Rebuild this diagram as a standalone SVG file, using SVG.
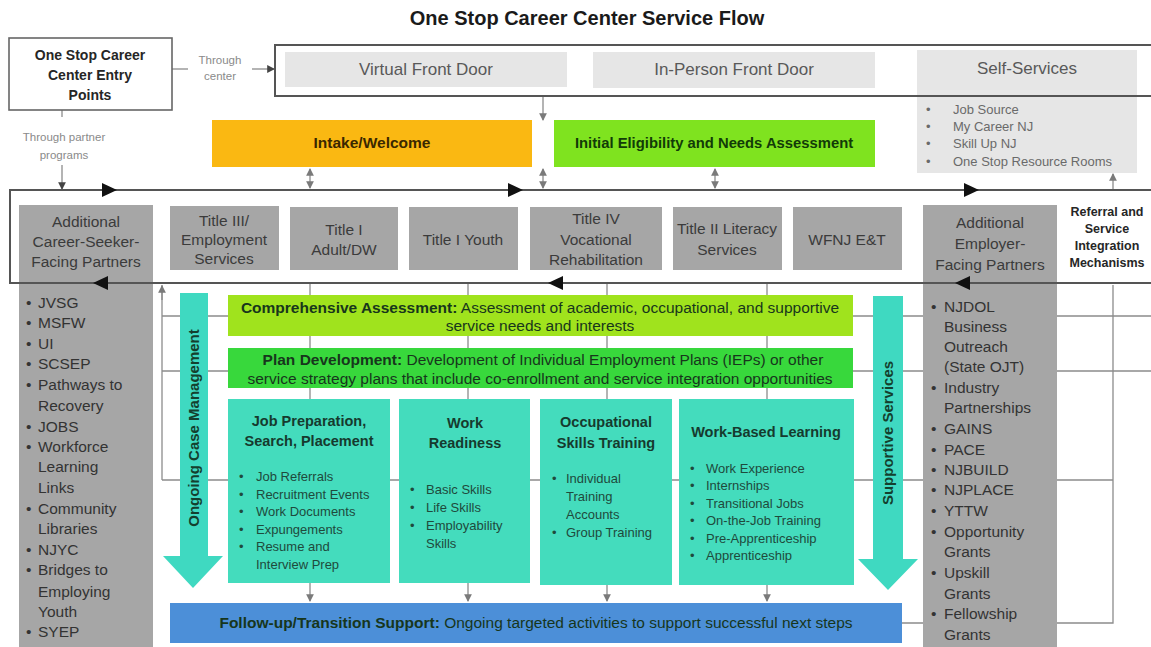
<svg xmlns="http://www.w3.org/2000/svg" width="1151" height="647" viewBox="0 0 1151 647">
<defs>
<marker id="tip" viewBox="0 0 8 8" refX="7" refY="4" markerWidth="6" markerHeight="6" orient="auto-start-reverse">
<path d="M0,0 L8,4 L0,8 z" fill="#7a7a7a"/>
</marker>
<marker id="tipDark" viewBox="0 0 8 8" refX="7" refY="4" markerWidth="6" markerHeight="6" orient="auto">
<path d="M0,0 L8,4 L0,8 z" fill="#444"/>
</marker>
<style>
.sans{font-family:"Liberation Sans",Arial,sans-serif}
.ttl{font-family:"Liberation Sans",Arial,sans-serif;font-weight:bold;font-size:20px;fill:#1a1a1a}
.entry{font-family:"Liberation Sans",Arial,sans-serif;font-weight:bold;font-size:14px;fill:#262626}
.note{font-family:"Liberation Sans",Arial,sans-serif;font-size:11.5px;fill:#8a8a8a}
.door{fill:#e6e6e6}
.doorTxt{font-family:"Liberation Sans",Arial,sans-serif;font-size:17px;fill:#595959}
.ssList{font-family:"Liberation Sans",Arial,sans-serif;font-size:13px;fill:#6a6a6a}
.gbox{fill:#a6a6a6}
.gTxt{font-family:"Liberation Sans",Arial,sans-serif;font-size:15.5px;fill:#3b3b3b}
.gList{font-family:"Liberation Sans",Arial,sans-serif;font-size:15.5px;fill:#333}
.ref{font-family:"Liberation Sans",Arial,sans-serif;font-weight:bold;font-size:12.5px;fill:#262626}
.bar{font-family:"Liberation Sans",Arial,sans-serif;font-size:15.5px;fill:#17361c}
.barB{font-weight:bold}
.card{fill:#44dcbd}
.cardT{font-family:"Liberation Sans",Arial,sans-serif;font-weight:bold;font-size:14.5px;fill:#163a2e}
.cardL{font-family:"Liberation Sans",Arial,sans-serif;font-size:13px;fill:#1f4a3c}
.side{font-family:"Liberation Sans",Arial,sans-serif;font-weight:bold;font-size:15px;fill:#14402e}
.grid{fill:none;stroke:#8c8c8c;stroke-width:1.3}
.loop{fill:none;stroke:#555;stroke-width:2}
.head{fill:#111}
</style>
</defs>

<rect width="1151" height="647" fill="#ffffff"/>

<text class="ttl" x="587" y="25" text-anchor="middle">One Stop Career Center Service Flow</text>

<!-- background grid of referral lines (behind partner columns) -->
<g id="connectors">
<path class="grid" d="M162,480 V285"/>
<path class="grid" d="M162,316 H1151 M162,371 H1151 M162,480 H1113 M1113,285 V623 H902"/>
<path class="grid" d="M310,284 V601" marker-end="url(#tip)"/>
<path class="grid" d="M468,284 V601" marker-end="url(#tip)"/>
<path class="grid" d="M607,284 V601" marker-end="url(#tip)"/>
<path class="grid" d="M767,284 V601" marker-end="url(#tip)"/>
<path class="grid" d="M162,300 V286" marker-end="url(#tip)"/>
<!-- entry arrows -->
<path class="grid" d="M172,69 H188"/>
<path class="grid" d="M252,69 H274" stroke="#444" marker-end="url(#tipDark)"/>
<path class="grid" d="M62,110 V117"/>
<path class="grid" d="M62,165 V189" stroke="#444" marker-end="url(#tipDark)"/>
<path class="grid" d="M543,96 V120" marker-end="url(#tip)"/>
<!-- links between intake bars / self-services and the partner loop -->
<path class="grid" d="M310,169 V188" marker-start="url(#tip)" marker-end="url(#tip)"/>
<path class="grid" d="M543,169 V188" marker-start="url(#tip)" marker-end="url(#tip)"/>
<path class="grid" d="M715,169 V188" marker-start="url(#tip)" marker-end="url(#tip)"/>
<path class="grid" d="M1113,189 V174" marker-end="url(#tip)"/>
</g>

<!-- entry point -->
<g id="entry">
<rect x="9" y="38" width="163" height="72" fill="#fff" stroke="#666" stroke-width="1.6"/>
<text class="entry" x="90" y="60" text-anchor="middle">One Stop Career</text>
<text class="entry" x="90" y="80" text-anchor="middle">Center Entry</text>
<text class="entry" x="90" y="100" text-anchor="middle">Points</text>
<text class="note" x="220" y="64" text-anchor="middle">Through</text>
<text class="note" x="220" y="80" text-anchor="middle">center</text>
<text class="note" x="64" y="141" text-anchor="middle">Through partner</text>
<text class="note" x="64" y="159" text-anchor="middle">programs</text>
</g>

<!-- front doors -->
<g id="self-services">
<rect class="door" x="917" y="50" width="220" height="123"/>
<text class="doorTxt" x="1027" y="74" text-anchor="middle">Self-Services</text>
<g class="ssList">
<text x="926" y="114">•</text><text x="953" y="114">Job Source</text>
<text x="926" y="131">•</text><text x="953" y="131">My Career NJ</text>
<text x="926" y="148">•</text><text x="953" y="148">Skill Up NJ</text>
<text x="926" y="166">•</text><text x="953" y="166">One Stop Resource Rooms</text>
</g>
</g>
<g id="virtual-door">
<rect class="door" x="285" y="52" width="282" height="35"/>
<text class="doorTxt" x="426" y="75" text-anchor="middle">Virtual Front Door</text>
</g>
<g id="in-person-door">
<rect class="door" x="593" y="52" width="282" height="36"/>
<text class="doorTxt" x="734" y="75" text-anchor="middle">In-Person Front Door</text>
</g>
<path class="loop" d="M1151,45 H275 V96 H1151"/>

<!-- intake row -->
<g id="intake">
<rect x="212" y="120" width="320" height="47" fill="#fab812"/>
<text class="sans" x="372" y="148" text-anchor="middle" font-weight="bold" font-size="15.5" fill="#3a2800">Intake/Welcome</text>
</g>
<g id="eligibility">
<rect x="554" y="120" width="321" height="47" fill="#7fe31f"/>
<text class="sans" x="714" y="148" text-anchor="middle" font-weight="bold" font-size="14.8" fill="#123b08">Initial Eligibility and Needs Assessment</text>
</g>

<!-- partner columns -->
<g id="career-seeker-partners">
<rect class="gbox" x="19" y="205" width="134" height="442"/>
<text class="gTxt" x="86" y="227" text-anchor="middle">Additional</text>
<text class="gTxt" x="86" y="247" text-anchor="middle">Career-Seeker-</text>
<text class="gTxt" x="86" y="267" text-anchor="middle">Facing Partners</text>
<g class="gList">
<text x="26" y="308">•</text><text x="38" y="308">JVSG</text>
<text x="26" y="328">•</text><text x="38" y="328">MSFW</text>
<text x="26" y="349">•</text><text x="38" y="349">UI</text>
<text x="26" y="369">•</text><text x="38" y="369">SCSEP</text>
<text x="26" y="390">•</text><text x="38" y="390">Pathways to</text>
<text x="38" y="411">Recovery</text>
<text x="26" y="432">•</text><text x="38" y="432">JOBS</text>
<text x="26" y="452">•</text><text x="38" y="452">Workforce</text>
<text x="38" y="472">Learning</text>
<text x="38" y="493">Links</text>
<text x="26" y="514">•</text><text x="38" y="514">Community</text>
<text x="38" y="534">Libraries</text>
<text x="26" y="555">•</text><text x="38" y="555">NJYC</text>
<text x="26" y="575">•</text><text x="38" y="575">Bridges to</text>
<text x="38" y="597">Employing</text>
<text x="38" y="617">Youth</text>
<text x="26" y="637">•</text><text x="38" y="637">SYEP</text>
</g>
</g>
<g id="employer-partners">
<rect class="gbox" x="923" y="205" width="134" height="442"/>
<text class="gTxt" x="990" y="228" text-anchor="middle">Additional</text>
<text class="gTxt" x="990" y="249" text-anchor="middle">Employer-</text>
<text class="gTxt" x="990" y="270" text-anchor="middle">Facing Partners</text>
<g class="gList">
<text x="931" y="312">•</text><text x="944" y="312">NJDOL</text>
<text x="944" y="332">Business</text>
<text x="944" y="352">Outreach</text>
<text x="944" y="372">(State OJT)</text>
<text x="931" y="393">•</text><text x="944" y="393">Industry</text>
<text x="944" y="413">Partnerships</text>
<text x="931" y="434">•</text><text x="944" y="434">GAINS</text>
<text x="931" y="455">•</text><text x="944" y="455">PACE</text>
<text x="931" y="475">•</text><text x="944" y="475">NJBUILD</text>
<text x="931" y="495">•</text><text x="944" y="495">NJPLACE</text>
<text x="931" y="516">•</text><text x="944" y="516">YTTW</text>
<text x="931" y="537">•</text><text x="944" y="537">Opportunity</text>
<text x="944" y="557">Grants</text>
<text x="931" y="578">•</text><text x="944" y="578">Upskill</text>
<text x="944" y="599">Grants</text>
<text x="931" y="619">•</text><text x="944" y="619">Fellowship</text>
<text x="944" y="640">Grants</text>
</g>
</g>

<!-- partner referral loop -->
<g id="partner-loop">
<path class="loop" d="M1151,190 H10 V283 H1151"/>
<path class="head" d="M102,183 L117,190 L102,197 z"/>
<path class="head" d="M508,183 L523,190 L508,197 z"/>
<path class="head" d="M964,183 L979,190 L964,197 z"/>
<path class="head" d="M108,276 L93,283 L108,290 z"/>
<path class="head" d="M563,276 L548,283 L563,290 z"/>
<path class="head" d="M970,276 L955,283 L970,290 z"/>
</g>

<!-- core partner programs -->
<g id="title-iii">
<rect class="gbox" x="170" y="206" width="109" height="64"/>
<text class="gTxt" x="224" y="226" text-anchor="middle">Title III/</text>
<text class="gTxt" x="224" y="245" text-anchor="middle">Employment</text>
<text class="gTxt" x="224" y="264" text-anchor="middle">Services</text>
</g>
<g id="title-i-adult">
<rect class="gbox" x="290" y="207" width="108" height="63"/>
<text class="gTxt" x="344" y="235" text-anchor="middle">Title I</text>
<text class="gTxt" x="344" y="255" text-anchor="middle">Adult/DW</text>
</g>
<g id="title-i-youth">
<rect class="gbox" x="409" y="207" width="109" height="63"/>
<text class="gTxt" x="463" y="245" text-anchor="middle">Title I Youth</text>
</g>
<g id="title-iv">
<rect class="gbox" x="530" y="207" width="132" height="63"/>
<text class="gTxt" x="596" y="224" text-anchor="middle">Title IV</text>
<text class="gTxt" x="596" y="245" text-anchor="middle">Vocational</text>
<text class="gTxt" x="596" y="265" text-anchor="middle">Rehabilitation</text>
</g>
<g id="title-ii">
<rect class="gbox" x="673" y="207" width="109" height="63"/>
<text class="gTxt" x="727" y="234" text-anchor="middle">Title II Literacy</text>
<text class="gTxt" x="727" y="255" text-anchor="middle">Services</text>
</g>
<g id="wfnj">
<rect class="gbox" x="793" y="207" width="109" height="63"/>
<text class="gTxt" x="847" y="245" text-anchor="middle">WFNJ E&amp;T</text>
</g>
<g id="referral-label">
<rect x="1066" y="203" width="84" height="68" fill="#fff"/>
<text class="ref" x="1107" y="216" text-anchor="middle">Referral and</text>
<text class="ref" x="1107" y="233" text-anchor="middle">Service</text>
<text class="ref" x="1107" y="250" text-anchor="middle">Integration</text>
<text class="ref" x="1107" y="267" text-anchor="middle">Mechanisms</text>
</g>

<!-- service stages -->
<g id="comprehensive-assessment">
<rect x="228" y="295" width="625" height="41" fill="#a0e31d"/>
<text class="bar" x="540" y="313" text-anchor="middle"><tspan class="barB">Comprehensive Assessment:</tspan> Assessment of academic, occupational, and supportive</text>
<text class="bar" x="540" y="331" text-anchor="middle">service needs and interests</text>
</g>
<g id="plan-development">
<rect x="228" y="348" width="625" height="40" fill="#38d83c"/>
<text class="bar" x="543" y="365" text-anchor="middle"><tspan class="barB">Plan Development:</tspan> Development of Individual Employment Plans (IEPs) or other</text>
<text class="bar" x="540" y="384" text-anchor="middle">service strategy plans that include co-enrollment and service integration opportunities</text>
</g>

<g id="job-preparation">
<rect class="card" x="228" y="399" width="162" height="184"/>
<text class="cardT" x="309" y="426" text-anchor="middle">Job Preparation,</text>
<text class="cardT" x="309" y="446" text-anchor="middle">Search, Placement</text>
<g class="cardL">
<text x="239" y="481">•</text><text x="256" y="481">Job Referrals</text>
<text x="239" y="499">•</text><text x="256" y="499">Recruitment Events</text>
<text x="239" y="516">•</text><text x="256" y="516">Work Documents</text>
<text x="239" y="534">•</text><text x="256" y="534">Expungements</text>
<text x="239" y="551">•</text><text x="256" y="551">Resume and</text>
<text x="256" y="569">Interview Prep</text>
</g>
</g>
<g id="work-readiness">
<rect class="card" x="399" y="399" width="131" height="184"/>
<text class="cardT" x="465" y="428" text-anchor="middle">Work</text>
<text class="cardT" x="465" y="448" text-anchor="middle">Readiness</text>
<g class="cardL">
<text x="410" y="494">•</text><text x="426" y="494">Basic Skills</text>
<text x="410" y="512">•</text><text x="426" y="512">Life Skills</text>
<text x="410" y="530">•</text><text x="426" y="530">Employability</text>
<text x="426" y="548">Skills</text>
</g>
</g>
<g id="occupational-training">
<rect class="card" x="540" y="399" width="132" height="186"/>
<text class="cardT" x="606" y="427" text-anchor="middle">Occupational</text>
<text class="cardT" x="606" y="448" text-anchor="middle">Skills Training</text>
<g class="cardL">
<text x="552" y="483">•</text><text x="566" y="483">Individual</text>
<text x="566" y="501">Training</text>
<text x="566" y="519">Accounts</text>
<text x="552" y="537">•</text><text x="566" y="537">Group Training</text>
</g>
</g>
<g id="work-based-learning">
<rect class="card" x="679" y="399" width="175" height="186"/>
<text class="cardT" x="766" y="437" text-anchor="middle">Work-Based Learning</text>
<g class="cardL">
<text x="690" y="473">•</text><text x="706" y="473">Work Experience</text>
<text x="690" y="490">•</text><text x="706" y="490">Internships</text>
<text x="690" y="508">•</text><text x="706" y="508">Transitional Jobs</text>
<text x="690" y="525">•</text><text x="706" y="525">On-the-Job Training</text>
<text x="690" y="543">•</text><text x="706" y="543">Pre-Apprenticeship</text>
<text x="690" y="560">•</text><text x="706" y="560">Apprenticeship</text>
</g>
</g>

<g id="follow-up">
<rect x="170" y="603" width="732" height="40" fill="#4c8fd8"/>
<text class="bar" x="536" y="628" text-anchor="middle" fill="#13283f"><tspan class="barB">Follow-up/Transition Support:</tspan> Ongoing targeted activities to support successful next steps</text>
</g>

<!-- continuous-support arrows -->
<g id="case-management">
<path d="M180,293 H208 V556 H223 L193,588 L163,556 H180 z" fill="#3fd9c1"/>
<text class="side" transform="translate(199,428) rotate(-90)" text-anchor="middle">Ongoing Case Management</text>
</g>
<g id="supportive-services">
<path d="M873,296 H903 V559 H918 L888,590 L858,559 H873 z" fill="#3fd9c1"/>
<text class="side" transform="translate(893,433) rotate(-90)" text-anchor="middle">Supportive Services</text>
</g>
</svg>
